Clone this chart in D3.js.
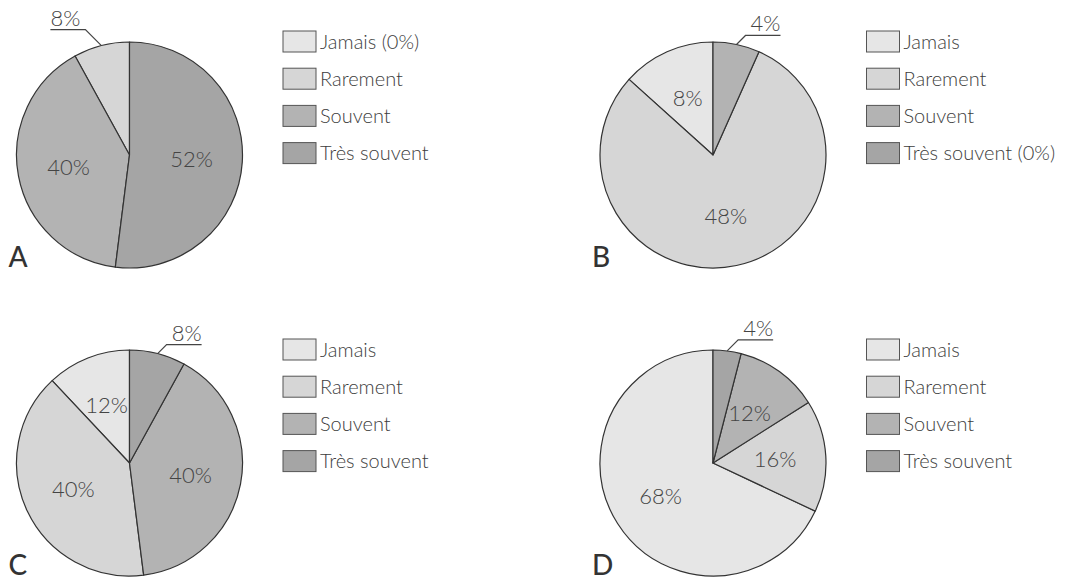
<!DOCTYPE html>
<html>
<head>
<meta charset="utf-8">
<script src="https://cdn.jsdelivr.net/npm/d3@7"></script>
<style>
  html, body { margin: 0; padding: 0; background: #ffffff; }
  svg { display: block; }
  text { font-family: Lato, "Open Sans", "DejaVu Sans", sans-serif; }
</style>
</head>
<body>
<svg id="chart" width="1066" height="580"></svg>
<script>
// Answer categories, in legend order
const categories = ["Jamais", "Rarement", "Souvent", "Très souvent"];

// Percentages per panel, same order as categories
const valuesA = [0, 8, 40, 52];
const valuesB = [8, 48, 4, 0];
const valuesC = [12, 40, 40, 8];
const valuesD = [68, 16, 12, 4];

const panelLetters = ["A", "B", "C", "D"];
const panelValues = [valuesA, valuesB, valuesC, valuesD];

// Fill for each category
const fills = ["#e6e6e6", "#d6d6d6", "#b3b3b3", "#a5a5a5"];

// Layout
const radius = 113;
const centers = [[129.5, 155], [713, 155], [129.5, 463], [713, 463]];
const leaderRise = [16, 9, 9, 11];
const underlineLen = 35;

const svg = d3.select("#chart");

const pie = d3.pie()
  .sort(null)
  .value(d => d.value)
  .startAngle(0)
  .endAngle(-2 * Math.PI);   // slices laid out counter-clockwise from 12 o'clock

const arc = d3.arc().innerRadius(0).outerRadius(radius);

const pct = d => d + "%";

panelValues.forEach((vals, i) => {
  const [cx, cy] = centers[i];
  const data = categories.map((c, k) => ({ cat: c, value: vals[k], fill: fills[k] }));
  const total = d3.sum(vals);
  const g = svg.append("g").attr("transform", `translate(${cx},${cy})`);

  const slices = pie(data);

  g.selectAll("path.slice")
    .data(slices.filter(s => s.data.value > 0))
    .join("path")
    .attr("class", "slice")
    .attr("d", arc)
    .attr("fill", s => s.data.fill)
    .attr("stroke", "#333")
    .attr("stroke-width", 1.2)
    .attr("stroke-linejoin", "round");

  // Labels: inside for larger slices, leader + underline for thin ones
  slices.forEach(s => {
    if (s.data.value <= 0) return;
    const mid = (s.startAngle + s.endAngle) / 2;
    const frac = s.data.value / total;
    if (frac >= 0.1) {
      const rr = radius * 0.55;
      g.append("text")
        .attr("x", rr * Math.sin(mid))
        .attr("y", -rr * Math.cos(mid))
        .attr("dy", "0.36em")
        .attr("text-anchor", "middle")
        .attr("font-size", 22)
        .attr("font-weight", 300)
        .attr("fill", "#444")
        .text(pct(s.data.value));
    } else {
      const x0 = radius * Math.sin(mid);
      const y0 = -radius * Math.cos(mid);
      const side = x0 < 0 ? -1 : 1;
      const rise = leaderRise[i];
      const x1 = x0 + side * rise;
      const y1 = y0 - rise;
      const x2 = x1 + side * underlineLen;
      g.append("path")
        .attr("d", `M${x0},${y0}L${x1},${y1}L${x2},${y1}`)
        .attr("fill", "none")
        .attr("stroke", "#444")
        .attr("stroke-width", 1.2);
      g.append("text")
        .attr("x", x2)
        .attr("y", y1 - 4)
        .attr("text-anchor", side < 0 ? "start" : "end")
        .attr("font-size", 22)
        .attr("font-weight", 300)
        .attr("fill", "#444")
        .text(pct(s.data.value));
    }
  });

  // Panel letter
  svg.append("text")
    .attr("x", cx - 121)
    .attr("y", cy + 112)
    .attr("font-size", 28)
    .attr("font-weight", 500)
    .attr("fill", "#333")
    .text(panelLetters[i]);

  // Legend
  const lg = svg.append("g").attr("transform", `translate(${cx + radius + 40.5},${cy - 124})`);
  const rows = lg.selectAll("g.row")
    .data(data)
    .join("g")
    .attr("class", "row")
    .attr("transform", (d, k) => `translate(0,${k * 37.2})`);
  rows.append("rect")
    .attr("width", 33)
    .attr("height", 21)
    .attr("fill", d => d.fill)
    .attr("stroke", "#555")
    .attr("stroke-width", 1);
  rows.append("text")
    .attr("x", 37)
    .attr("y", 10.5)
    .attr("dy", "0.36em")
    .attr("font-size", 20)
    .attr("font-weight", 300)
    .attr("fill", "#3d3d3d")
    .text(d => d.value === 0 ? `${d.cat} (0%)` : d.cat);
});
</script>
</body>
</html>
